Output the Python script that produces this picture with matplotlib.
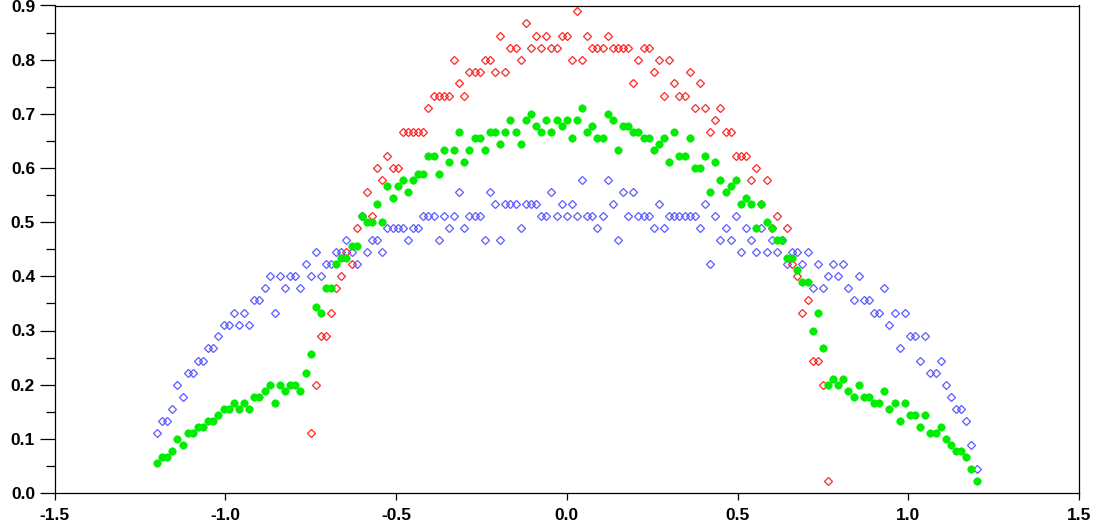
# -*- coding: utf-8 -*-
"""
Three scatter profiles across the section (red / blue open diamonds,
green filled dots), redrawn from the exported figure.
"""
import matplotlib
matplotlib.use('Agg')
import matplotlib.pyplot as plt
import numpy as np
from matplotlib.ticker import MultipleLocator, FormatStrFormatter

# shared sample positions
x_positions = [
    -1.200, -1.185, -1.170, -1.155, -1.140, -1.125, -1.110, -1.095, -1.080, -1.065,
    -1.050, -1.035, -1.020, -1.005, -0.990, -0.975, -0.960, -0.945, -0.930, -0.915,
    -0.900, -0.885, -0.870, -0.855, -0.840, -0.825, -0.810, -0.795, -0.780, -0.765,
    -0.750, -0.735, -0.720, -0.705, -0.690, -0.675, -0.660, -0.645, -0.630, -0.615,
    -0.600, -0.585, -0.570, -0.555, -0.540, -0.525, -0.510, -0.495, -0.480, -0.465,
    -0.450, -0.435, -0.420, -0.405, -0.390, -0.375, -0.360, -0.345, -0.330, -0.315,
    -0.300, -0.285, -0.270, -0.255, -0.240, -0.225, -0.210, -0.195, -0.180, -0.165,
    -0.150, -0.135, -0.120, -0.105, -0.090, -0.075, -0.060, -0.045, -0.030, -0.015,
    0.000, 0.015, 0.030, 0.045, 0.060, 0.075, 0.090, 0.105, 0.120, 0.135,
    0.150, 0.165, 0.180, 0.195, 0.210, 0.225, 0.240, 0.255, 0.270, 0.285,
    0.300, 0.315, 0.330, 0.345, 0.360, 0.375, 0.390, 0.405, 0.420, 0.435,
    0.450, 0.465, 0.480, 0.495, 0.510, 0.525, 0.540, 0.555, 0.570, 0.585,
    0.600, 0.615, 0.630, 0.645, 0.660, 0.675, 0.690, 0.705, 0.720, 0.735,
    0.750, 0.765, 0.780, 0.795, 0.810, 0.825, 0.840, 0.855, 0.870, 0.885,
    0.900, 0.915, 0.930, 0.945, 0.960, 0.975, 0.990, 1.005, 1.020, 1.035,
    1.050, 1.065, 1.080, 1.095, 1.110, 1.125, 1.140, 1.155, 1.170, 1.185,
    1.200,
]

# red open diamonds (no values outside the central part)
red_values = [None] * 30 + [
    0.111, 0.200, 0.289, 0.289, 0.333, 0.378, 0.400, 0.444, 0.422, 0.489,
    0.511, 0.556, 0.511, 0.600, 0.578, 0.622, 0.600, 0.600, 0.667, 0.667,
    0.667, 0.667, 0.667, 0.711, 0.733, 0.733, 0.733, 0.733, 0.800, 0.756,
    0.733, 0.778, 0.778, 0.778, 0.800, 0.800, 0.778, 0.844, 0.778, 0.822,
    0.822, 0.800, 0.867, 0.822, 0.844, 0.822, 0.844, 0.822, 0.822, 0.844,
    0.844, 0.800, 0.889, 0.800, 0.844, 0.822, 0.822, 0.822, 0.844, 0.822,
    0.822, 0.822, 0.822, 0.756, 0.800, 0.822, 0.822, 0.778, 0.800, 0.733,
    0.800, 0.756, 0.733, 0.733, 0.778, 0.711, 0.756, 0.711, 0.667, 0.689,
    0.711, 0.667, 0.667, 0.622, 0.622, 0.622, 0.578, 0.600, 0.533, 0.578,
    0.489, 0.511, 0.467, 0.489, 0.422, 0.400, 0.333, 0.356, 0.244, 0.244,
    0.200, 0.022,
] + [None] * 29

# blue open diamonds
blue_values = [
    0.111, 0.133, 0.133, 0.156, 0.200, 0.178, 0.222, 0.222, 0.244, 0.244,
    0.267, 0.267, 0.289, 0.311, 0.311, 0.333, 0.311, 0.333, 0.311, 0.356,
    0.356, 0.378, 0.400, 0.333, 0.400, 0.378, 0.400, 0.400, 0.378, 0.422,
    0.400, 0.444, 0.400, 0.422, 0.422, 0.444, 0.444, 0.467, 0.444, 0.422,
    0.511, 0.444, 0.467, 0.467, 0.444, 0.489, 0.489, 0.489, 0.489, 0.467,
    0.489, 0.489, 0.511, 0.511, 0.511, 0.467, 0.511, 0.489, 0.511, 0.556,
    0.489, 0.511, 0.511, 0.511, 0.467, 0.556, 0.533, 0.467, 0.533, 0.533,
    0.533, 0.489, 0.533, 0.533, 0.533, 0.511, 0.511, 0.556, 0.511, 0.533,
    0.511, 0.533, 0.511, 0.578, 0.511, 0.511, 0.489, 0.511, 0.578, 0.533,
    0.467, 0.556, 0.511, 0.556, 0.511, 0.511, 0.511, 0.489, 0.533, 0.489,
    0.511, 0.511, 0.511, 0.511, 0.511, 0.511, 0.489, 0.533, 0.422, 0.511,
    0.467, 0.489, 0.467, 0.511, 0.444, 0.489, 0.467, 0.444, 0.489, 0.444,
    0.467, 0.444, 0.467, 0.422, 0.444, 0.444, 0.422, 0.444, 0.378, 0.422,
    0.378, 0.400, 0.422, 0.400, 0.422, 0.378, 0.356, 0.400, 0.356, 0.356,
    0.333, 0.333, 0.378, 0.311, 0.333, 0.267, 0.333, 0.289, 0.289, 0.244,
    0.289, 0.222, 0.222, 0.244, 0.200, 0.178, 0.156, 0.156, 0.133, 0.089,
    0.044,
]

# green filled dots
green_values = [
    0.056, 0.067, 0.067, 0.078, 0.100, 0.089, 0.111, 0.111, 0.122, 0.122,
    0.133, 0.133, 0.144, 0.156, 0.156, 0.167, 0.156, 0.167, 0.156, 0.178,
    0.178, 0.189, 0.200, 0.167, 0.200, 0.189, 0.200, 0.200, 0.189, 0.222,
    0.256, 0.344, 0.333, 0.378, 0.378, 0.422, 0.433, 0.433, 0.456, 0.456,
    0.511, 0.500, 0.500, 0.533, 0.500, 0.567, 0.544, 0.567, 0.578, 0.556,
    0.578, 0.589, 0.589, 0.622, 0.622, 0.589, 0.633, 0.611, 0.633, 0.667,
    0.611, 0.633, 0.656, 0.656, 0.633, 0.667, 0.667, 0.644, 0.667, 0.689,
    0.667, 0.644, 0.689, 0.700, 0.678, 0.667, 0.689, 0.667, 0.689, 0.678,
    0.689, 0.656, 0.689, 0.711, 0.667, 0.678, 0.656, 0.656, 0.700, 0.689,
    0.633, 0.678, 0.678, 0.667, 0.667, 0.656, 0.656, 0.633, 0.644, 0.656,
    0.611, 0.667, 0.622, 0.622, 0.656, 0.600, 0.600, 0.622, 0.556, 0.611,
    0.578, 0.556, 0.567, 0.578, 0.533, 0.544, 0.533, 0.489, 0.533, 0.500,
    0.489, 0.467, 0.467, 0.433, 0.433, 0.411, 0.389, 0.389, 0.300, 0.333,
    0.267, 0.200, 0.211, 0.200, 0.211, 0.189, 0.178, 0.200, 0.178, 0.178,
    0.167, 0.167, 0.189, 0.156, 0.167, 0.133, 0.167, 0.144, 0.144, 0.122,
    0.144, 0.111, 0.111, 0.122, 0.100, 0.089, 0.078, 0.078, 0.067, 0.044,
    0.022,
]

x_ticks = [-1.5, -1.0, -0.5, 0.0, 0.5, 1.0, 1.5]
y_ticks = [0.0, 0.1, 0.2, 0.3, 0.4, 0.5, 0.6, 0.7, 0.8, 0.9]


def make_profile_plot(out_file='out.png'):
    plt.rcParams['font.family'] = ['Liberation Sans', 'DejaVu Sans']
    plt.rcParams['font.weight'] = 'bold'
    plt.rcParams['axes.unicode_minus'] = False

    x = np.array(x_positions, dtype=float)
    red = np.array(red_values, dtype=float)
    blue = np.array(blue_values, dtype=float)
    green = np.array(green_values, dtype=float)

    fig = plt.figure(figsize=(11.01, 5.32), dpi=100)
    # axes box placed to match the exported frame (pixels / figure size)
    ax = fig.add_axes([54.5 / 1101., 39. / 532., 1024.5 / 1101., 487.5 / 532.])

    ax.plot(x, red, linestyle='none', marker='D', markersize=4.2,
            markerfacecolor='none', markeredgecolor='#ff2626',
            markeredgewidth=0.9, clip_on=False)
    ax.plot(x, blue, linestyle='none', marker='D', markersize=4.2,
            markerfacecolor='none', markeredgecolor='#5c5cff',
            markeredgewidth=0.9, clip_on=False)
    ax.plot(x, green, linestyle='none', marker='o', markersize=5.4,
            markerfacecolor='#00ec00', markeredgecolor='#00ec00',
            markeredgewidth=0.4, clip_on=False)

    ax.set_xlim(-1.5, 1.5)
    ax.set_ylim(0.0, 0.9)
    ax.set_xticks(x_ticks)
    ax.set_yticks(y_ticks)
    ax.yaxis.set_minor_locator(MultipleLocator(0.05))
    ax.xaxis.set_major_formatter(FormatStrFormatter('%.1f'))
    ax.yaxis.set_major_formatter(FormatStrFormatter('%.1f'))

    for sp in ax.spines.values():
        sp.set_linewidth(0.9)
        sp.set_color('black')

    ax.tick_params(axis='y', which='major', direction='out', length=11,
                   width=0.9, labelsize=12.5, pad=3)
    ax.tick_params(axis='y', which='minor', direction='out', length=6.5,
                   width=0.9)
    ax.tick_params(axis='x', which='major', direction='out', length=5,
                   width=0.9, labelsize=12.5, pad=5.5)
    ax.tick_params(top=False, right=False)

    fig.savefig(out_file, dpi=100)


def main():
    make_profile_plot('out.png')


if __name__ == "__main__":
    main()
